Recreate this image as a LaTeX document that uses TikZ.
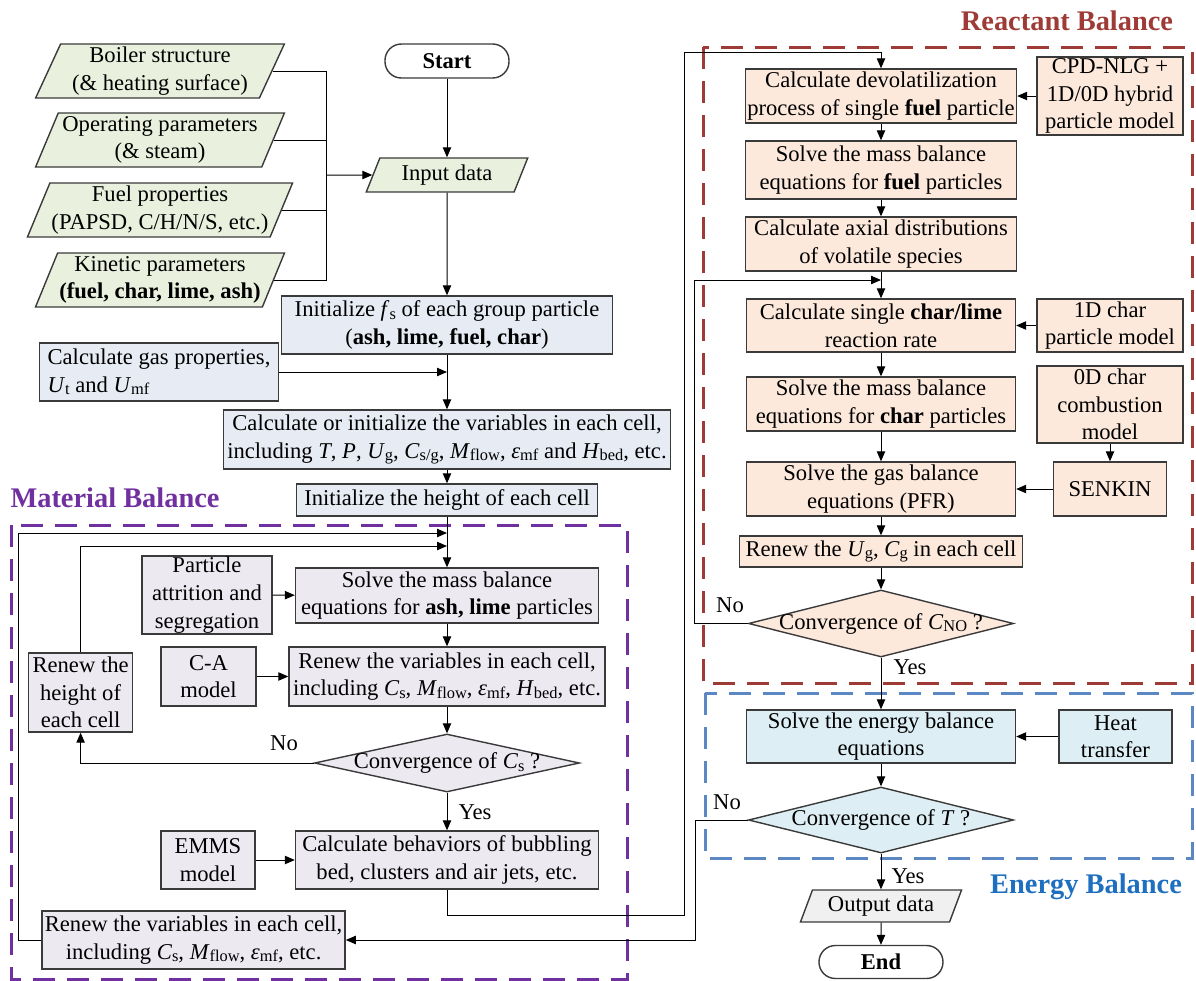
\documentclass[tikz,border=0pt]{standalone}
\usepackage{fontspec}
\setmainfont{Liberation Serif}
\usetikzlibrary{arrows.meta,shapes.geometric}
\definecolor{boxline}{HTML}{3A3A3A}
\definecolor{ingreen}{HTML}{E9F0DE}
\definecolor{prepblue}{HTML}{E7ECF4}
\definecolor{matgray}{HTML}{ECE9F1}
\definecolor{reapeach}{HTML}{FCE9DC}
\definecolor{enecyan}{HTML}{DDEEF4}
\definecolor{outgray}{HTML}{F0F0F0}
\definecolor{matpurple}{HTML}{7030A0}
\definecolor{reared}{HTML}{9E3B36}
\definecolor{enedash}{HTML}{5B87C2}
\definecolor{enetitle}{HTML}{1F6FC0}

% italic symbol with upright, lowered subscript
\newcommand{\vsub}[2]{\textit{#1}\raisebox{-0.25ex}{\fontsize{8.2}{9}\selectfont #2}}

\begin{document}
\begin{tikzpicture}[
    x=0.5pt, y=-0.5pt,
    font=\fontsize{11.3}{13.8}\selectfont,
    >={Triangle[length=5pt, width=4.2pt]},
    base/.style={draw=boxline, line width=0.7pt, align=center, inner xsep=0.8pt, inner ysep=0pt},
    box/.style={base, rectangle},
    inbox/.style={base, trapezium, trapezium left angle=65, trapezium right angle=115, trapezium stretches=true, fill=ingreen},
    outbox/.style={inbox, fill=outgray},
    terminal/.style={base, rectangle, rounded corners=8.2pt, fill=white, font=\fontsize{11.3}{13.8}\selectfont\bfseries},
    decide/.style={base, diamond, inner sep=0pt, minimum width=132.5pt},
    prep/.style={box, fill=prepblue},
    mat/.style={box, fill=matgray},
    rea/.style={box, fill=reapeach},
    ene/.style={box, fill=enecyan},
    line/.style={draw=black, line width=0.5pt},
    arrow/.style={line, ->},
    region/.style={line width=1.5pt, dash pattern=on 11pt off 6pt},
    title/.style={font=\fontsize{14.2}{16}\selectfont\bfseries},
]
    \useasboundingbox (0,0) rectangle (1196,981);

    % =====================================================================
    % Balance regions
    % =====================================================================
    \draw[region, matpurple] (11,525) rectangle (627,979);
    \draw[region, reared] (703,47) rectangle (1192,683);
    \draw[region, enedash] (705,693) rectangle (1192,858);
    \node[title, text=matpurple] (mattitle) at (115,498) {Material Balance};
    \node[title, text=reared] (reatitle) at (1067,21) {Reactant Balance};
    \node[title, text=enetitle] (enetitle) at (1086,887) {Energy Balance};

    % =====================================================================
    % Input data and preparation
    % =====================================================================
    \node[inbox, minimum width=124.5pt, minimum height=27pt] (boiler) at (160,71) {Boiler structure\\(\& heating surface)};
    \node[inbox, minimum width=124.5pt, minimum height=27pt] (operate) at (160,140) {Operating parameters\\(\& steam)};
    \node[inbox, minimum width=124.5pt, minimum height=27pt] (fuelprop) at (160,210) {Fuel properties\\(PAPSD, C/H/N/S, etc.)};
    \node[inbox, minimum width=124.5pt, minimum height=27pt] (kinetic) at (160,280) {Kinetic parameters\\\textbf{(fuel, char, lime, ash)}};

    \node[terminal, minimum width=62pt, minimum height=17pt] (start) at (447,61) {Start};
    \node[inbox, minimum width=81pt, minimum height=17pt] (input) at (447,175) {Input data};
    \node[prep, minimum width=165.5pt, minimum height=29pt] (initfs) at (447,325) {Initialize \vsub{f}{s} of each group particle\\(\textbf{ash, lime, fuel, char})};
    \node[prep, align=left, inner xsep=4pt, minimum width=117pt, minimum height=29pt] (gasprop) at (159,372) {Calculate gas properties,\\\vsub{U}{t} and \vsub{U}{mf}};
    \node[prep, minimum width=223.5pt, minimum height=29.5pt] (calcinit) at (447,439.5) {Calculate or initialize the variables in each cell,\\including \textit{T}, \textit{P}, \vsub{U}{g}, \vsub{C}{s/g}, \vsub{M}{flow}, \vsub{ε}{mf} and \vsub{H}{bed}, etc.};
    \node[prep, minimum width=150.5pt, minimum height=16pt] (initheight) at (447,500) {Initialize the height of each cell};

    % bus from the input data
    \coordinate (bus) at (326,175);
    \draw[line] (boiler.east) -| (bus);
    \draw[line] (operate.east) -| (bus);
    \draw[line] (fuelprop.east) -| (bus);
    \draw[line] (kinetic.east) -| (bus);
    \draw[arrow] (bus) -- (input.west);

    \coordinate (joingas) at (447,372);
    \draw[arrow] (start) -- (input);
    \draw[arrow] (input) -- (initfs);
    \draw[arrow] (initfs) -- (calcinit);
    \draw[arrow] (gasprop.east) -- (joingas);
    \draw[arrow] (calcinit) -- (initheight);

    % =====================================================================
    % Material balance
    % =====================================================================
    \node[mat, minimum width=65pt, minimum height=39pt] (attrition) at (207,595) {Particle\\attrition and\\segregation};
    \node[mat, minimum width=151.5pt, minimum height=27.5pt] (massash) at (447,595.5) {Solve the mass balance\\equations for \textbf{ash, lime} particles};
    \node[mat, minimum width=47.5pt, minimum height=29.5pt] (camodel) at (208.5,676.5) {C-A\\model};
    \node[mat, minimum width=158pt, minimum height=29.5pt] (renewvar) at (447,676.5) {Renew the variables in each cell,\\including \vsub{C}{s}, \vsub{M}{flow}, \vsub{ε}{mf}, \vsub{H}{bed}, etc.};
    \node[mat, minimum width=52pt, minimum height=39.5pt] (renewh) at (80.6,692.5) {Renew the\\height of\\each cell};
    \node[decide, fill=matgray, minimum height=29pt, label=center:{Convergence of \vsub{C}{s} ?}] (convcs) at (447,763) {};
    \node[mat, minimum width=47pt, minimum height=29pt] (emms) at (208,860) {EMMS\\model};
    \node[mat, minimum width=151.5pt, minimum height=29pt] (behav) at (447,860) {Calculate behaviors of bubbling\\bed, clusters and air jets, etc.};
    \node[mat, minimum width=151.5pt, minimum height=29pt] (renewall) at (193.6,940) {Renew the variables in each cell,\\including \vsub{C}{s}, \vsub{M}{flow}, \vsub{ε}{mf}, etc.};

    \coordinate (loopout) at (447,533);
    \coordinate (loopin) at (447,546);
    \coordinate (outerleft) at (18,533);
    \draw[arrow] (initheight) -- (massash);
    \draw[arrow] (renewall.west) -| (outerleft) -- (loopout);
    \draw[arrow] (renewh.north) |- (loopin);
    \draw[arrow] (attrition) -- (massash);
    \draw[arrow] (camodel) -- (renewvar);
    \draw[arrow] (emms) -- (behav);
    \draw[arrow] (massash) -- (renewvar);
    \draw[arrow] (renewvar) -- (convcs);
    \draw[arrow] (convcs.west) -| (renewh.south);
    \draw[arrow] (convcs) -- (behav);
    \node (nocs) at (284,743) {No};
    \node (yescs) at (475,812) {Yes};

    % =====================================================================
    % Reactant balance
    % =====================================================================
    \node[rea, minimum width=135.5pt, minimum height=27pt] (devol) at (881,96) {Calculate devolatilization\\process of single \textbf{fuel} particle};
    \node[rea, minimum width=73pt, minimum height=39pt] (cpd) at (1110,96) {CPD-NLG +\\1D/0D hybrid\\particle model};
    \node[rea, minimum width=135.5pt, minimum height=29pt] (massfuel) at (881,170) {Solve the mass balance\\equations for \textbf{fuel} particles};
    \node[rea, minimum width=135.5pt, minimum height=27pt] (axial) at (881,244) {Calculate axial distributions\\of volatile species};
    \node[rea, minimum width=134.5pt, minimum height=26.5pt] (charlime) at (881,325.5) {Calculate single \textbf{char/lime}\\reaction rate};
    \node[rea, minimum width=73pt, minimum height=26.5pt] (char1d) at (1110,325.5) {1D char\\particle model};
    \node[rea, minimum width=134.5pt, minimum height=27pt] (masschar) at (881,404) {Solve the mass balance\\equations for \textbf{char} particles};
    \node[rea, minimum width=73pt, minimum height=38.5pt] (char0d) at (1110,404.5) {0D char\\combustion\\model};
    \node[rea, minimum width=56.5pt, minimum height=27pt] (senkin) at (1110,489) {SENKIN};
    \node[rea, minimum width=134.5pt, minimum height=27pt] (gasbal) at (881,489) {Solve the gas balance\\equations (PFR)};
    \node[rea, minimum width=141.5pt, minimum height=15.5pt] (renewg) at (881,551.5) {Renew the \vsub{U}{g}, \vsub{C}{g} in each cell};
    \node[decide, fill=reapeach, minimum height=33.5pt, label=center:{Convergence of \vsub{C}{NO} ?}] (convno) at (881,623.5) {};

    \coordinate (torea1) at (684,915);
    \coordinate (torea2) at (684,52);
    \coordinate (noleft) at (694,280);
    \coordinate (nojoin) at (881,280);
    \draw[arrow] (behav.south) |- (torea1) -- (torea2) -| (devol.north);
    \draw[arrow] (cpd) -- (devol);
    \draw[arrow] (devol) -- (massfuel);
    \draw[arrow] (massfuel) -- (axial);
    \draw[arrow] (axial) -- (charlime);
    \draw[arrow] (convno.west) -| (noleft) -- (nojoin);
    \draw[arrow] (char1d) -- (charlime);
    \draw[arrow] (charlime) -- (masschar);
    \draw[arrow] (masschar) -- (gasbal);
    \draw[arrow] (char0d) -- (senkin);
    \draw[arrow] (senkin) -- (gasbal);
    \draw[arrow] (gasbal) -- (renewg);
    \draw[arrow] (renewg) -- (convno);
    \node (nono) at (730,605) {No};
    \node (yesno) at (910,667) {Yes};

    % =====================================================================
    % Energy balance
    % =====================================================================
    \node[ene, minimum width=134.5pt, minimum height=26.5pt] (energy) at (881,736.5) {Solve the energy balance\\equations};
    \node[ene, minimum width=56.5pt, minimum height=26.5pt] (heat) at (1115.5,736.5) {Heat\\transfer};
    \node[decide, fill=enecyan, minimum height=33pt, label=center:{Convergence of \textit{T} ?}] (convt) at (881,820) {};
    \node[outbox, minimum width=81pt, minimum height=16pt] (output) at (881,906) {Output data};
    \node[terminal, minimum width=62pt, minimum height=16.5pt] (end) at (881,962) {End};

    \coordinate (tleft) at (695,940);
    \draw[arrow] (convno) -- (energy);
    \draw[arrow] (heat) -- (energy);
    \draw[arrow] (energy) -- (convt);
    \draw[arrow] (convt.west) -| (tleft) -- (renewall.east);
    \draw[arrow] (convt) -- (output);
    \draw[arrow] (output) -- (end);
    \node (not) at (727,802) {No};
    \node (yest) at (908,876) {Yes};

\end{tikzpicture}
\end{document}
